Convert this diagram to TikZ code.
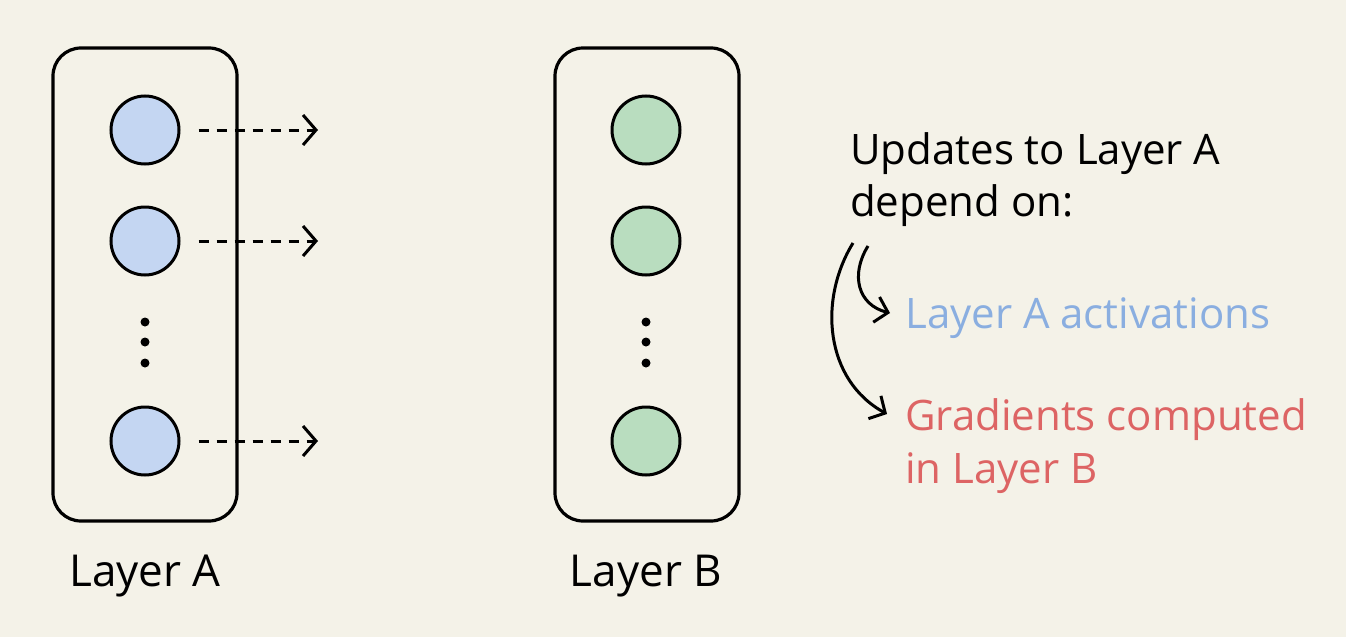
\documentclass[tikz,border=0pt]{standalone}
\usepackage{fontspec}
\setmainfont{Open Sans}
\usetikzlibrary{arrows.meta}
\definecolor{bg}{HTML}{F4F2E8}
\definecolor{neuronblue}{HTML}{C4D6F2}
\definecolor{neurongreen}{HTML}{B9DDBF}
\definecolor{txtblue}{HTML}{8AAEE0}
\definecolor{txtred}{HTML}{DD6464}
\tikzset{
  layerbox/.style={draw, line width=3.2pt, rounded corners=28pt, minimum width=184pt, minimum height=473pt, inner sep=0pt},
  neuron/.style={circle, draw, line width=3pt, minimum size=68pt, inner sep=0pt},
  dotmark/.style={circle, fill=black, minimum size=9pt, inner sep=0pt},
  flow/.style={line width=3pt, dash pattern=on 10pt off 8pt, -{Straight Barb[length=13pt,width=30pt,line width=3pt]}},
  curvearrow/.style={line width=3pt, -{Straight Barb[length=12pt,width=26pt,line width=3pt]}},
  bigtext/.style={font=\fontsize{42}{52}\selectfont, inner sep=0pt, anchor=base west},
  labeltext/.style={font=\fontsize{44}{52}\selectfont, inner sep=0pt, anchor=base},
}
\begin{document}
\begin{tikzpicture}[x=1pt,y=-1pt]
\fill[bg] (0,0) rectangle (1346,637);
\useasboundingbox (0,0) rectangle (1346,637);

% Layer A
\node[layerbox] (boxA) at (145,284.5) {};
\node[neuron, fill=neuronblue] (a1) at (145,130) {};
\node[neuron, fill=neuronblue] (a2) at (145,241) {};
\node[neuron, fill=neuronblue] (a3) at (145,441) {};
\node[dotmark] (ad1) at (145,322) {};
\node[dotmark] (ad2) at (145,342) {};
\node[dotmark] (ad3) at (145,363) {};
\coordinate (t1) at (318,130);
\coordinate (t2) at (318,241);
\coordinate (t3) at (318,441);
\draw[flow] ([xshift=18pt]a1.east) -- (t1);
\draw[flow] ([xshift=18pt]a2.east) -- (t2);
\draw[flow] ([xshift=18pt]a3.east) -- (t3);
\node[labeltext] (labA) at (145,586) {Layer A};

% Layer B
\node[layerbox] (boxB) at (647,284.5) {};
\node[neuron, fill=neurongreen] (b1) at (646,130) {};
\node[neuron, fill=neurongreen] (b2) at (646,241) {};
\node[neuron, fill=neurongreen] (b3) at (646,441) {};
\node[dotmark] (bd1) at (646,322) {};
\node[dotmark] (bd2) at (646,342) {};
\node[dotmark] (bd3) at (646,363) {};
\node[labeltext] (labB) at (646,586) {Layer B};

% Explanation
\node[bigtext] (upd1) at (850,164) {Updates to Layer A};
\node[bigtext] (upd2) at (850,216) {depend on:};
\node[bigtext, text=txtblue] (act) at (905,328) {Layer A activations};
\node[bigtext, text=txtred] (grad1) at (905,430) {Gradients computed};
\node[bigtext, text=txtred] (grad2) at (905,483) {in Layer B};

\coordinate (s1) at (868,246);
\coordinate (e1) at (890,313);
\coordinate (s2) at (853,243);
\coordinate (e2) at (887,414);
\draw[curvearrow] (s1) .. controls (850,275) and (858,305) .. (e1);
\draw[curvearrow] (s2) .. controls (818,300) and (825,380) .. (e2);
\end{tikzpicture}
\end{document}
